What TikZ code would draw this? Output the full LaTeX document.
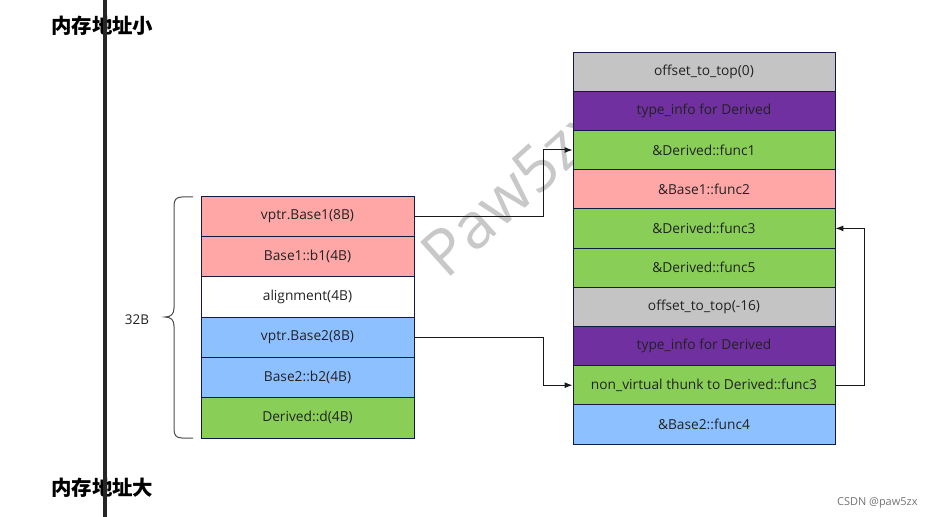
\documentclass[tikz,border=0pt]{standalone}
\usepackage{fontspec}
\setmainfont{Open Sans}
\newfontfamily\cjk{Noto Sans CJK SC}
\usetikzlibrary{arrows.meta}
\definecolor{pinkc}{RGB}{255,166,166}
\definecolor{bluec}{RGB}{141,192,255}
\definecolor{greenc}{RGB}{137,206,87}
\definecolor{grayc}{RGB}{196,196,196}
\definecolor{purplec}{RGB}{112,48,160}
\definecolor{borderc}{RGB}{20,24,70}
\definecolor{txtc}{RGB}{34,34,34}
\definecolor{wmc}{RGB}{200,200,200}
\tikzset{
  lcell/.style={draw=borderc, line width=0.9bp, minimum width=213bp, minimum height=40.33bp, inner sep=0pt, text=txtc, font=\fontsize{13.8}{15}\selectfont},
  rcell/.style={draw=borderc, line width=0.9bp, minimum width=262bp, minimum height=39.2bp, inner sep=0pt, text=txtc, font=\fontsize{13.8}{15}\selectfont},
  conn/.style={draw=black!90, line width=1bp, -{Latex[length=8bp,width=6bp]}},
  title/.style={font=\cjk\bfseries\fontsize{20.5}{22}\selectfont, anchor=west, inner sep=0pt, text=black},
  wmark/.style={font=\fontsize{64}{68}\selectfont, text=wmc, inner sep=0pt},
}
\begin{document}
\begin{tikzpicture}[x=1bp,y=-1bp]
\useasboundingbox (0,0) rectangle (936,517);
\fill[white] (0,0) rectangle (936,517);
% watermark
\node[wmark, rotate=42] (wm) at (514,189) {Paw5zx};
% titles
\node[title] (top) at (51,26) {内存地址小};
\node[title] (bot) at (51,488) {内存地址大};
% axis line
\coordinate (ax1) at (105,0);
\coordinate (ax2) at (105,517);
\draw[line width=3.5bp, draw=black!85] (ax1) -- (ax2);
% left table
\node[lcell, fill=pinkc] (l1) at (307.5,216.2) {vptr.Base1(8B)};
\node[lcell, fill=pinkc] (l2) at (307.5,256.5) {Base1::b1(4B)};
\node[lcell, fill=white] (l3) at (307.5,296.8) {alignment(4B)};
\node[lcell, fill=bluec] (l4) at (307.5,337.2) {vptr.Base2(8B)};
\node[lcell, fill=bluec] (l5) at (307.5,377.5) {Base2::b2(4B)};
\node[lcell, fill=greenc] (l6) at (307.5,417.8) {Derived::d(4B)};
% brace
\draw[draw=black!70, line width=1bp] (193,197) -- (182,197) .. controls (176,197) and (174,200) .. (174,206) -- (174,308) .. controls (174,314) and (171,317) .. (165,317) .. controls (171,317) and (174,320) .. (174,326) -- (174,429) .. controls (174,435) and (176,438) .. (182,438) -- (193,438);
\node[font=\fontsize{13.5}{15}\selectfont, text=txtc] (sz) at (137,320) {32B};
% right table
\node[rcell, fill=grayc] (r1) at (704,71.6) {offset\_to\_top(0)};
\node[rcell, fill=purplec] (r2) at (704,110.8) {type\_info for Derived};
\node[rcell, fill=greenc] (r3) at (704,150) {\&Derived::func1};
\node[rcell, fill=pinkc] (r4) at (704,189.2) {\&Base1::func2};
\node[rcell, fill=greenc] (r5) at (704,228.4) {\&Derived::func3};
\node[rcell, fill=greenc] (r6) at (704,267.6) {\&Derived::func5};
\node[rcell, fill=grayc] (r7) at (704,306.8) {offset\_to\_top(-16)};
\node[rcell, fill=purplec] (r8) at (704,346) {type\_info for Derived};
\node[rcell, fill=greenc] (r9) at (704,385.2) {non\_virtual thunk to Derived::func3};
\node[rcell, fill=bluec] (r10) at (704,424.4) {\&Base2::func4};
% connectors
\coordinate (k1) at (543,0);
\coordinate (k3) at (864,0);
\draw[conn] (l1.east) -- (l1.east -| k1) |- (r3.west);
\draw[conn] (l4.east) -- (l4.east -| k1) |- (r9.west);
\draw[conn] (r9.east) -- (r9.east -| k3) |- (r5.east);
% footer
\node[font=\fontsize{11}{13}\selectfont, text=black!55, anchor=east] (csdn) at (921,503) {CSDN @paw5zx};
\end{tikzpicture}
\end{document}
